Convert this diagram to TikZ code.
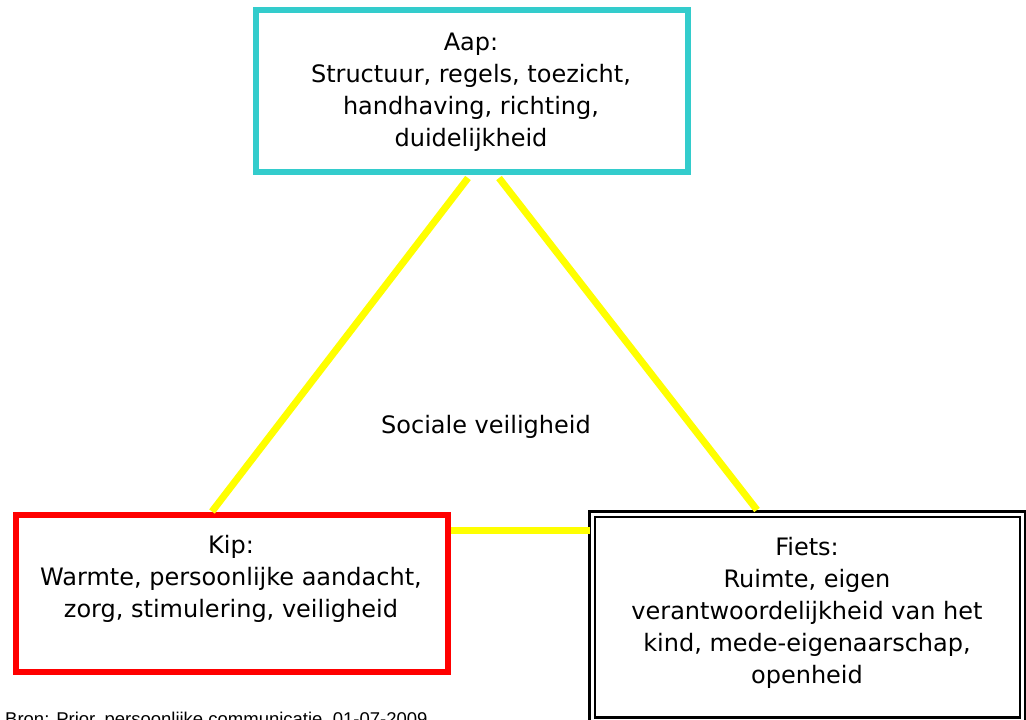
\documentclass[tikz,border=0pt]{standalone}
\usepackage{fontspec}
\setmainfont{DejaVu Sans}
\newfontfamily\bronfont{Liberation Sans}
\definecolor{aapcol}{HTML}{33CCCC}
\definecolor{kipcol}{HTML}{FF0000}
\definecolor{linkcol}{HTML}{FFFF00}
\begin{document}
\begin{tikzpicture}[x=1pt,y=-1pt,
  boxbase/.style={draw, fill=white, rectangle, inner sep=0pt, outer sep=0pt},
  boxtext/.style={align=center, anchor=base, inner sep=0pt,
    font=\fontsize{24}{32}\selectfont},
  link/.style={draw=linkcol, line width=7pt}]
\useasboundingbox (0,0) rectangle (1026,720);
% boxes
\node[boxbase, draw=aapcol, line width=6pt, minimum width=432pt, minimum height=162pt]
  (aap) at (472,91) {};
\node[boxbase, draw=kipcol, line width=6pt, minimum width=432pt, minimum height=157.5pt]
  (kip) at (232,593.25) {};
\node[boxbase, draw=black, line width=2.5pt, double=white, double distance=3pt,
  minimum width=430.5pt, minimum height=206pt]
  (fiets) at (807.25,617) {};
% connection points
\coordinate (aapL) at (468,178);
\coordinate (aapR) at (499,178);
\coordinate (kipT) at (212,511.5);
\coordinate (fietsT) at (757,510);
\coordinate (kipR) at (451,530.5);
\coordinate (fietsL) at (590,530.5);
\draw[link] (aapL) -- (kipT);
\draw[link] (aapR) -- (fietsT);
\draw[link] (kipR) -- (fietsL);
% texts (base anchor = baseline of last line)
\node[boxtext] (aaptxt) at (471,146) {Aap:\\Structuur, regels, toezicht,\\handhaving, richting,\\duidelijkheid};
\node[boxtext] (kiptxt) at (231,617) {Kip:\\Warmte, persoonlijke aandacht,\\zorg, stimulering, veiligheid};
\node[boxtext] (fietstxt) at (807,683) {Fiets:\\Ruimte, eigen\\verantwoordelijkheid van het\\kind, mede-eigenaarschap,\\openheid};
\node[boxtext] (center) at (486,433) {Sociale veiligheid};
\node[anchor=base west, inner sep=0pt, font=\bronfont\fontsize{18.5}{22}\selectfont]
  (bron) at (5,725) {Bron: Prior, persoonlijke communicatie, 01-07-2009};
\end{tikzpicture}
\end{document}
